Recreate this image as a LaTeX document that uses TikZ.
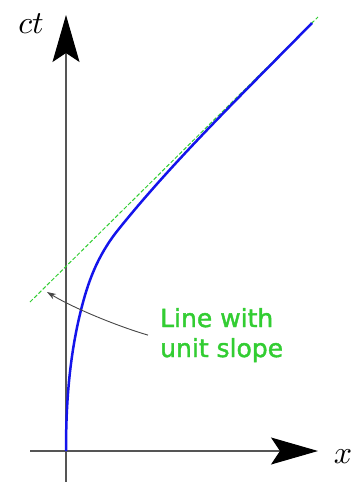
\documentclass[tikz,border=0pt]{standalone}
\usepackage{fontspec}
\newfontfamily\labelfont[FakeBold=1.6]{DejaVu Sans}
\usetikzlibrary{arrows.meta}
\definecolor{axisgray}{RGB}{85,85,85}
\definecolor{notegray}{RGB}{70,70,70}
\definecolor{curveblue}{RGB}{20,20,235}
\definecolor{asymgreen}{RGB}{50,205,50}
\tikzset{
  axisline/.style={draw=axisgray, line width=1.1pt,
    -{Stealth[length=47pt, width=27pt, inset=9pt, color=black]}},
  worldline/.style={draw=curveblue, line width=2.5pt},
  asymline/.style={draw=asymgreen, line width=1pt, dash pattern=on 4pt off 2pt},
  notearrow/.style={draw=notegray, line width=0.9pt, -{Stealth[length=9pt, width=6pt]}},
  axislabel/.style={scale=3.2, anchor=base, inner sep=0pt},
  notelabel/.style={font=\labelfont\fontsize{25}{30}\selectfont, text=asymgreen, align=left, anchor=base west, inner sep=0pt}
}
\begin{document}
\begin{tikzpicture}[x=1pt, y=-1pt]
  \useasboundingbox (0,0) rectangle (355,482);
  % axes
  \coordinate (O) at (66,451);
  \coordinate (tbot) at (66,482);
  \coordinate (ttop) at (66,15);
  \coordinate (xleft) at (30,451);
  \coordinate (xright) at (318,451);
  \draw[axisline] (tbot) -- (ttop);
  \draw[axisline] (xleft) -- (xright);
  \node[axislabel] (ctlab) at (31,33) {$ct$};
  \node[axislabel] (xlab) at (343,463) {$x$};
  % asymptote
  \coordinate (a1) at (30,302);
  \coordinate (a2) at (318,17);
  \draw[asymline] (a1) -- (a2);
  % world line
  \coordinate (w1) at (81,310);
  \coordinate (w2) at (118,230);
  \coordinate (w3) at (312,23);
  \draw[worldline] (O) .. controls (66,404) and (69.25,357) .. (w1)
    .. controls (87.7,283.3) and (96.7,256.7) .. (w2)
    .. controls (173.2,161) and (244.4,92) .. (w3);
  % annotation
  \node[notelabel] (lbl) at (160,357) {Line with\\unit slope};
  \coordinate (tipc) at (47,292);
  \draw[notearrow] ([xshift=-12pt]lbl.west) .. controls (120,327) and (75,309) .. (tipc);
\end{tikzpicture}
\end{document}
